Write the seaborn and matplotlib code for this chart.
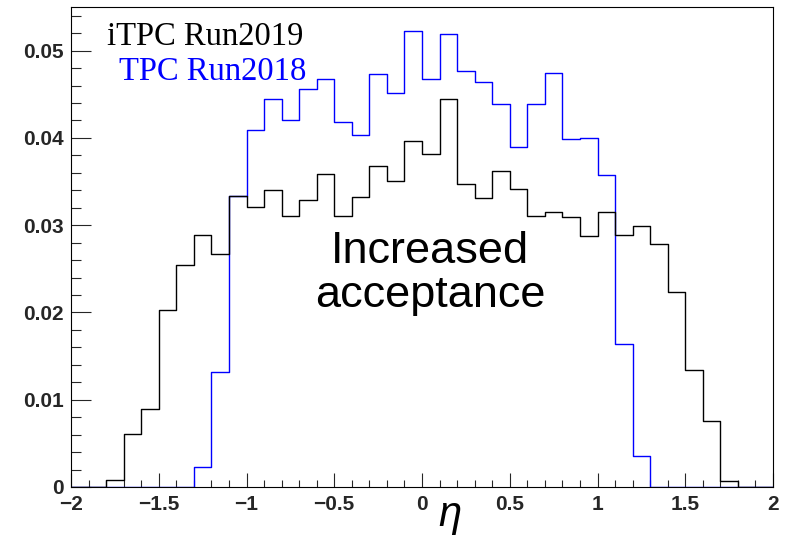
import numpy as np
import matplotlib
matplotlib.use("Agg")
import matplotlib.pyplot as plt
from matplotlib.ticker import MultipleLocator, FuncFormatter
import seaborn as sns

# ---- data (40 bins of width 0.1 from -2 to 2) ----
bin_edges = [round(-2.0 + 0.1 * i, 1) for i in range(41)]
bin_centers = [round(-1.95 + 0.1 * i, 2) for i in range(40)]

tpc_run2018 = [0, 0, 0, 0, 0, 0, 0,
               0.0023, 0.0132, 0.0334, 0.0409, 0.0445, 0.0420, 0.0456, 0.0468,
               0.0418, 0.0403, 0.0473, 0.0452, 0.0523, 0.0468, 0.0519, 0.0477,
               0.0464, 0.0439, 0.0390, 0.0439, 0.0474, 0.0399, 0.0400, 0.0357,
               0.0164, 0.0036,
               0, 0, 0, 0, 0, 0, 0]

itpc_run2019 = [0, 0,
                0.0008, 0.0061, 0.0089, 0.0203, 0.0254, 0.0289, 0.0267, 0.0334,
                0.0321, 0.0340, 0.0311, 0.0329, 0.0359, 0.0310, 0.0332, 0.0368,
                0.0351, 0.0397, 0.0382, 0.0445, 0.0347, 0.0331, 0.0362, 0.0342,
                0.0310, 0.0315, 0.0309, 0.0288, 0.0315, 0.0289, 0.0299, 0.0279,
                0.0223, 0.0134, 0.0076, 0.0007,
                0, 0]

label_2019 = "iTPC Run2019"
label_2018 = "TPC Run2018"
annotation_lines = ["Increased", "acceptance"]
x_label = "η"

sns.set_style("ticks")
plt.rcParams["font.family"] = ["Liberation Sans", "DejaVu Sans"]

fig = plt.figure(figsize=(7.87, 5.39), dpi=100)
ax = fig.add_axes([71 / 787, 52 / 539, 702 / 787, 480 / 539])

sns.histplot(x=bin_centers, weights=tpc_run2018, bins=bin_edges,
             element="step", fill=False, color="#0000ff", linewidth=1.0, ax=ax)
sns.histplot(x=bin_centers, weights=itpc_run2019, bins=bin_edges,
             element="step", fill=False, color="black", linewidth=1.0, ax=ax)

ax.set_xlim(-2, 2)
ax.set_ylim(0, 0.055)
ax.set_xlabel("")
ax.set_ylabel("")

ax.xaxis.set_major_locator(MultipleLocator(0.5))
ax.xaxis.set_minor_locator(MultipleLocator(0.1))
ax.yaxis.set_major_locator(MultipleLocator(0.01))
ax.yaxis.set_minor_locator(MultipleLocator(0.002))

fmt = FuncFormatter(lambda v, p: ("%g" % round(v, 4)).replace("-", "\u2212"))
ax.xaxis.set_major_formatter(fmt)
ax.yaxis.set_major_formatter(fmt)

ax.tick_params(axis="x", which="major", direction="in", length=10.3, width=0.8,
               labelsize=15, pad=6, top=False)
ax.tick_params(axis="x", which="minor", direction="in", length=5.3, width=0.8, top=False)
ax.tick_params(axis="y", which="major", direction="in", length=14.4, width=0.8,
               labelsize=15, pad=5, right=False)
ax.tick_params(axis="y", which="minor", direction="in", length=7.2, width=0.8, right=False)
for lab in ax.get_xticklabels() + ax.get_yticklabels():
    lab.set_fontweight("bold")

for s in ax.spines.values():
    s.set_visible(True)
    s.set_linewidth(0.8)
    s.set_color("black")

fig.text(106.7 / 787, (539 - 45) / 539, label_2019, color="black",
         family=["Liberation Serif", "DejaVu Serif"], fontsize=23.5, va="baseline", ha="left")
fig.text(119 / 787, (539 - 80) / 539, label_2018, color="#0000ff",
         family=["Liberation Serif", "DejaVu Serif"], fontsize=23.5, va="baseline", ha="left")

fig.text(430 / 787, (539 - 263) / 539, annotation_lines[0], color="black",
         fontsize=32.5, va="baseline", ha="center")
fig.text(430 / 787, (539 - 307) / 539, annotation_lines[1], color="black",
         fontsize=32.5, va="baseline", ha="center")

fig.text(450 / 787, (539 - 526) / 539, x_label, color="black", fontsize=30,
         fontstyle="italic", va="baseline", ha="center")

fig.savefig("out.png", dpi=100, facecolor="white")
